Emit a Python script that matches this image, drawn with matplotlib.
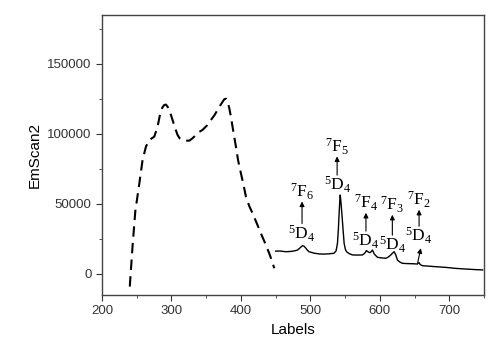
import matplotlib
matplotlib.use("Agg")
import matplotlib.pyplot as plt
from matplotlib.ticker import MultipleLocator

# excitation spectrum (dashed)
ex_wl = [240, 244, 248, 253.8, 258.4, 263.3, 268, 275.3, 280, 283.9, 287, 289.6, 292, 294.4, 298,
         301.6, 305, 308.8, 312, 316, 320, 325.6, 330, 335.3, 340, 344.7, 351, 356.8, 362, 366.3,
         371, 376, 378.5, 380.7, 383, 385.6, 389, 392.8, 396, 400, 404, 407.2, 412, 416.7, 423,
         428.8, 435, 440.7, 444.5, 448]
ex_int = [-9000, 20000, 45000, 64800, 81400, 91000, 95700, 98100, 105200, 114800, 119000, 120700,
          121000, 119500, 115500, 110000, 104500, 99300, 96800, 95700, 95300, 95200, 96800, 99300,
          101500, 102900, 106000, 110000, 113500, 117100, 121000, 124800, 125200, 123100, 119000,
          112400, 102000, 91000, 81000, 71900, 63000, 55200, 48500, 43400, 36000, 29000, 21800,
          14800, 9500, 4100]

# emission spectrum (solid)
em_wl = [450, 456, 464.7, 472, 478, 481.5, 485, 488.6, 491, 493.5, 496, 498, 505, 512.6, 520, 527,
         534, 537, 539, 540.3, 541.4, 542.3, 543, 543.8, 545.3, 547, 548.6, 550.3, 552, 556, 560.6,
         568, 575, 578, 580.7, 583, 585.6, 587.5, 589.4, 592, 596.6, 602, 608.6, 612, 615.8, 618.5,
         620.6, 623, 625.3, 628.5, 632.5, 640, 648, 654, 656.5, 658, 661.3, 670, 680.5, 695, 709,
         718, 728, 738, 748]
em_int = [16300, 16400, 15900, 16100, 16600, 17100, 18600, 20200, 19800, 18400, 16800, 15900, 14900,
          14300, 14200, 14400, 14800, 16500, 21900, 32000, 43400, 52000, 56400, 52500, 43400, 32000,
          21900, 17800, 15900, 14500, 13600, 13500, 13600, 14700, 16700, 15800, 15200, 15900, 17100,
          14200, 11900, 11500, 11200, 12000, 13600, 15000, 15900, 13500, 10000, 8600, 7600, 7400,
          7300, 7100, 8100, 6800, 5900, 5600, 5200, 4700, 4000, 3700, 3400, 3100, 2900]

# transition labels: (x, y of 5D4, y of 7FJ, J)
trans_x = [488, 538.5, 580, 618, 656.5]
lower_y = [29000, 63600, 23600, 20700, 27100]
upper_y = [58800, 91000, 50700, 49300, 52900]
trans_j = ["6", "5", "4", "3", "2"]

fig = plt.figure(figsize=(4.99, 3.41), dpi=100)
ax = fig.add_axes([0.2044, 0.135, 0.7656, 0.821])

ax.plot(ex_wl, ex_int, color="black", lw=1.5, ls=(0, (5, 3)))
ax.plot(em_wl, em_int, color="black", lw=1.0)

serif = "Liberation Serif"
for x, yl, yu, j in zip(trans_x, lower_y, upper_y, trans_j):
    ax.text(x, yl, r"$\mathregular{^5D_4}$", family=serif, fontsize=12.5,
            ha="center", va="center")
    ax.text(x, yu, r"$\mathregular{^7F_%s}$" % j, family=serif, fontsize=12.5,
            ha="center", va="center")
    ax.annotate("", xy=(x, yu - 7000), xytext=(x, yl + 7000),
                arrowprops=dict(arrowstyle="-|>", color="black", lw=0.8,
                                mutation_scale=7, shrinkA=0, shrinkB=0))
# small arrow from the 7F2 band toward its label
ax.annotate("", xy=(659, 18400), xytext=(654.5, 8100),
            arrowprops=dict(arrowstyle="-|>", color="black", lw=0.8,
                            mutation_scale=7, shrinkA=0, shrinkB=0))

ax.set_xlim(200, 750)
ax.set_ylim(-15000, 185000)
ax.xaxis.set_major_locator(MultipleLocator(100))
ax.xaxis.set_minor_locator(MultipleLocator(50))
ax.yaxis.set_major_locator(MultipleLocator(50000))
ax.yaxis.set_minor_locator(MultipleLocator(25000))
ax.set_yticks([0, 50000, 100000, 150000])
ax.tick_params(which="both", direction="out", top=False, right=False,
               labelsize=9.5, colors="#333333")
ax.tick_params(which="major", length=4)
ax.tick_params(which="minor", length=2.5)
for s in ax.spines.values():
    s.set_color("#444444")
    s.set_linewidth(1.0)

ax.set_xlabel("Labels", fontsize=11, family="Liberation Sans")
ax.set_ylabel("EmScan2", fontsize=11, family="Liberation Sans")
for lab in ax.get_xticklabels() + ax.get_yticklabels():
    lab.set_family("Liberation Sans")

fig.savefig("out.png", dpi=100)
